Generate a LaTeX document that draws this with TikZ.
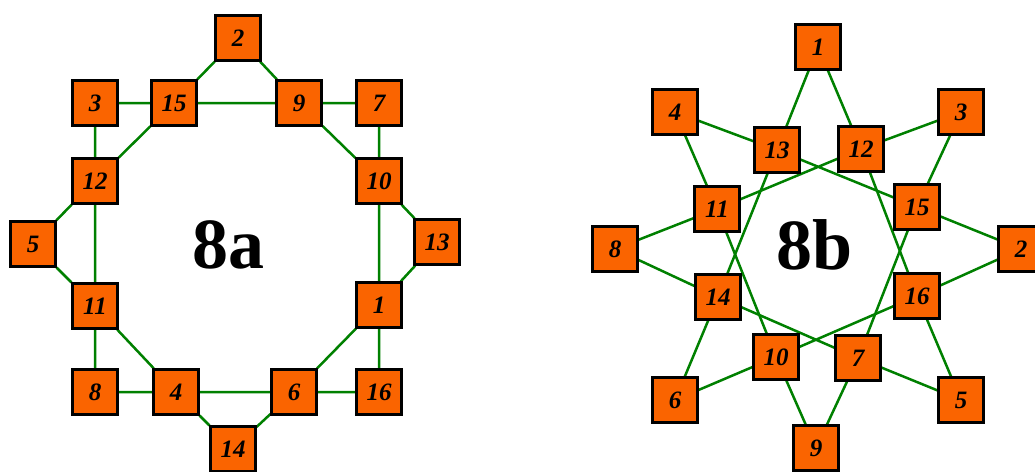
\documentclass[tikz,border=0pt]{standalone}
\usepackage{fontspec}
\setmainfont{Liberation Serif}
\usepackage{tikz}
\usetikzlibrary{backgrounds}
\definecolor{boxorange}{RGB}{250,100,0}
\definecolor{linkgreen}{RGB}{0,128,0}

\begin{document}
\begin{tikzpicture}[x=1pt,y=-1pt,
   blk/.style={draw=black,fill=boxorange,line width=2.2pt,minimum size=45pt,
               inner sep=0pt,font=\fontsize{25}{25}\selectfont\bfseries\itshape},
   lnk/.style={draw=linkgreen,line width=2.5pt},
   ttl/.style={font=\fontsize{72}{72}\selectfont\bfseries}]
  \clip (0,0) rectangle (1035,471);
  % --- 8a ---
  \node[blk] (a2)  at (238,38)  {2};
  \node[blk] (a15) at (174,103) {15};
  \node[blk] (a9)  at (299,103) {9};
  \node[blk] (a3)  at (95,103)  {3};
  \node[blk] (a7)  at (379,103) {7};
  \node[blk] (a12) at (95,181)  {12};
  \node[blk] (a10) at (379,181) {10};
  \node[blk] (a5)  at (33,244)  {5};
  \node[blk] (a13) at (437,242) {13};
  \node[blk] (a11) at (95,306)  {11};
  \node[blk] (a1)  at (379,305) {1};
  \node[blk] (a8)  at (95,392)  {8};
  \node[blk] (a4)  at (176,392) {4};
  \node[blk] (a6)  at (294,392) {6};
  \node[blk] (a16) at (379,392) {16};
  \node[blk] (a14) at (233,449) {14};
  \node[ttl] (ta) at (228,245) {8a};
  \begin{scope}[on background layer]
    \draw[lnk] (a2) -- (a15) (a2) -- (a9) (a15) -- (a9) (a3) -- (a15) (a9) -- (a7);
    \draw[lnk] (a3) -- (a12) (a15) -- (a12) (a9) -- (a10) (a7) -- (a10);
    \draw[lnk] (a12) -- (a5) (a12) -- (a11) (a10) -- (a13) (a10) -- (a1);
    \draw[lnk] (a5) -- (a11) (a13) -- (a1) (a11) -- (a8) (a11) -- (a4);
    \draw[lnk] (a1) -- (a6) (a1) -- (a16) (a8) -- (a4) (a4) -- (a6);
    \draw[lnk] (a6) -- (a16) (a4) -- (a14) (a6) -- (a14);
  \end{scope}
  % --- 8b ---
  \node[blk] (b1)  at (818,47)  {1};
  \node[blk] (b4)  at (675,112) {4};
  \node[blk] (b3)  at (961,112) {3};
  \node[blk] (b13) at (777,150) {13};
  \node[blk] (b12) at (861,149) {12};
  \node[blk] (b11) at (717,209) {11};
  \node[blk] (b15) at (917,207) {15};
  \node[blk] (b8)  at (615,249) {8};
  \node[blk] (b2)  at (1021,249) {2};
  \node[blk] (b14) at (718,297) {14};
  \node[blk] (b16) at (917,296) {16};
  \node[blk] (b10) at (776,357) {10};
  \node[blk] (b7)  at (858,358) {7};
  \node[blk] (b6)  at (675,400) {6};
  \node[blk] (b5)  at (961,400) {5};
  \node[blk] (b9)  at (816,448) {9};
  \node[ttl] (tb) at (815,245) {8b};
  \begin{scope}[on background layer]
    \draw[lnk] (b1) -- (b13) (b1) -- (b12) (b4) -- (b13) (b4) -- (b11);
    \draw[lnk] (b3) -- (b12) (b3) -- (b15) (b13) -- (b15) (b12) -- (b11);
    \draw[lnk] (b13) -- (b14) (b12) -- (b16) (b11) -- (b8) (b8) -- (b14);
    \draw[lnk] (b15) -- (b2) (b2) -- (b16) (b11) -- (b10) (b15) -- (b7);
    \draw[lnk] (b14) -- (b7) (b16) -- (b10) (b14) -- (b6) (b10) -- (b6);
    \draw[lnk] (b16) -- (b5) (b7) -- (b5) (b10) -- (b9) (b7) -- (b9);
  \end{scope}
\end{tikzpicture}
\end{document}
